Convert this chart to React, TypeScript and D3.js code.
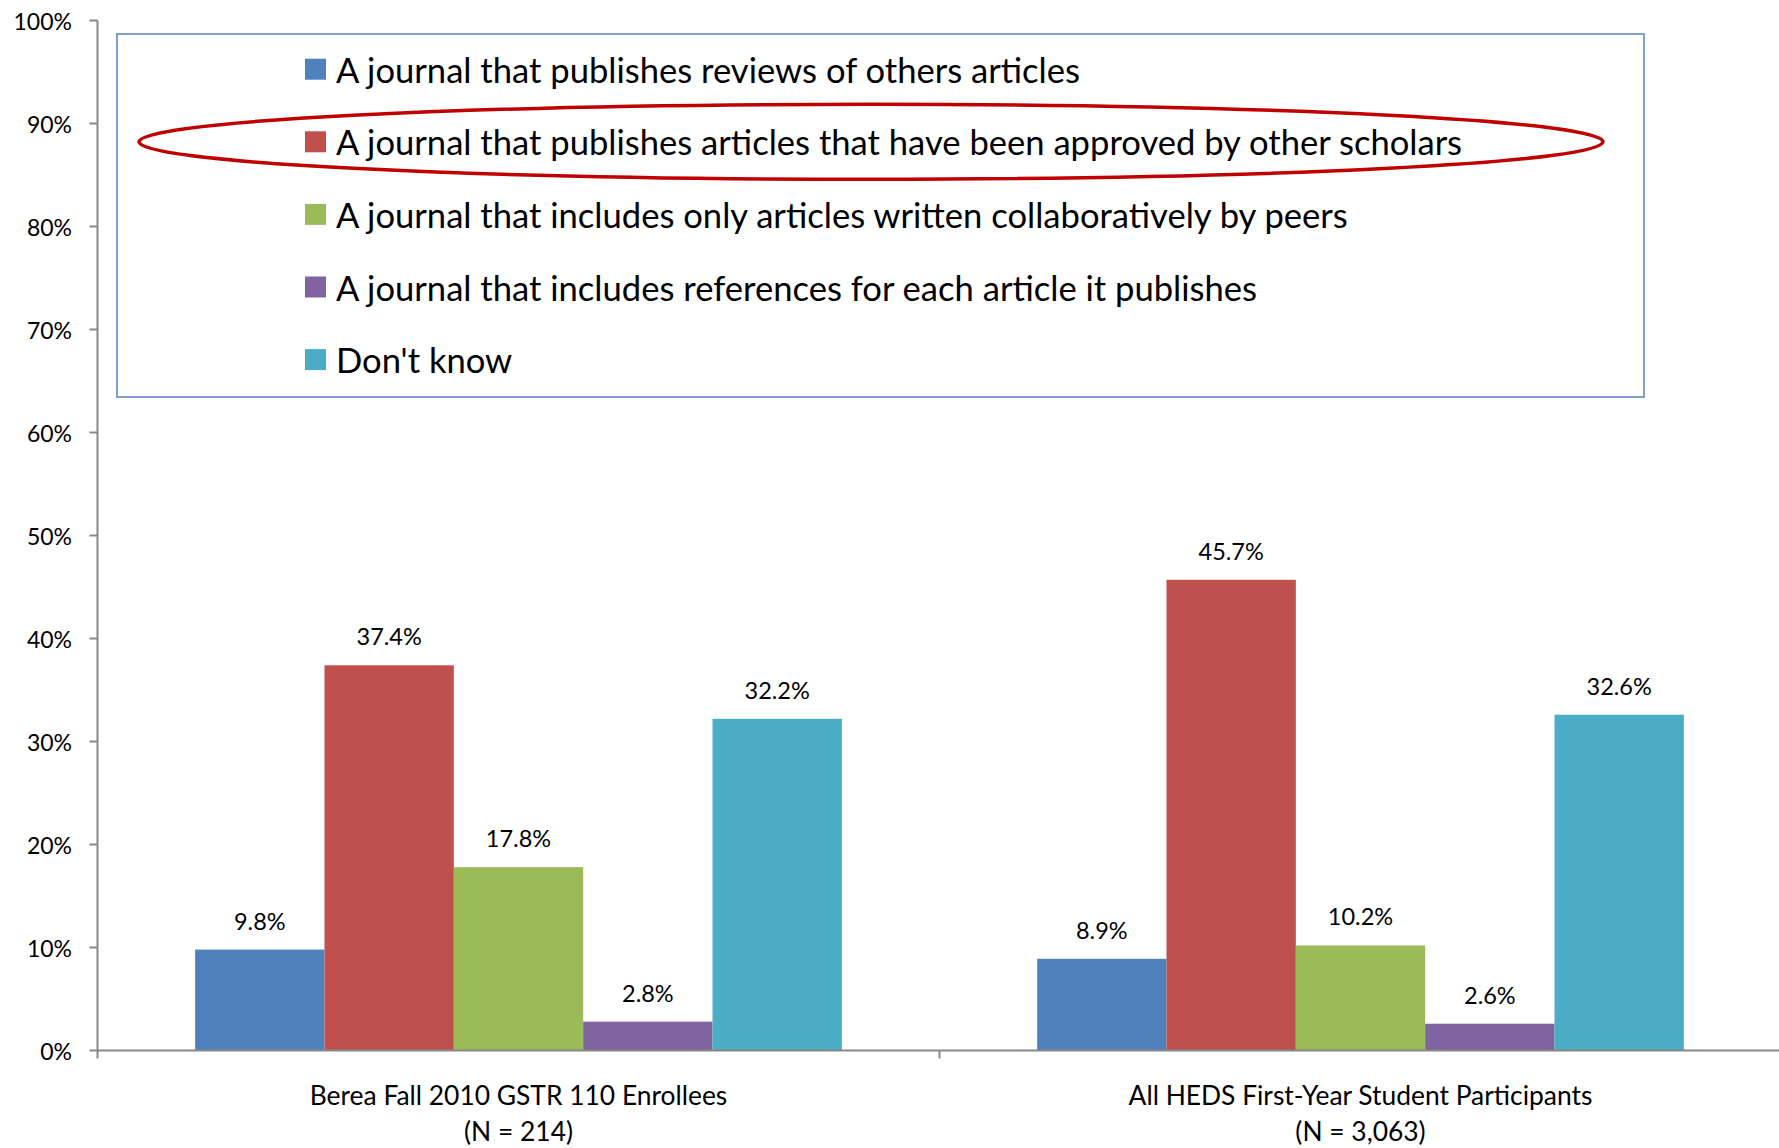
import React from "react";
import * as d3 from "d3";

const categories = ["Berea Fall 2010 GSTR 110 Enrollees", "All HEDS First-Year Student Participants"];
const categorySubs = ["(N = 214)", "(N = 3,063)"];
const seriesNames = [
  "A journal that publishes reviews of others articles",
  "A journal that publishes articles that have been approved by other scholars",
  "A journal that includes only articles written collaboratively by peers",
  "A journal that includes references for each article it publishes",
  "Don't know",
];
const seriesColors = ["#4F81BD", "#C0504D", "#9BBB59", "#8064A2", "#4BACC6"];
const bereaValues = [9.8, 37.4, 17.8, 2.8, 32.2];
const hedsValues = [8.9, 45.7, 10.2, 2.6, 32.6];
const yTicks = [0, 10, 20, 30, 40, 50, 60, 70, 80, 90, 100];

const W = 1779;
const H = 1148;
const FONT = "Lato, 'Open Sans', sans-serif";

export default function App() {
  const left = 97.5;
  const right = left + 2 * 842;
  const top = 20.5;
  const bottom = 1050.5;

  const y = d3.scaleLinear().domain([0, 100]).range([bottom, top]);
  const x0 = d3.scaleBand<string>().domain(categories).range([left, right]).padding(0);
  const x1 = d3
    .scaleBand<number>()
    .domain(d3.range(seriesNames.length))
    .range([0, x0.bandwidth()])
    .paddingInner(0)
    .paddingOuter(0.755);

  const groups = [bereaValues, hedsValues];
  const axisColor = "#888888";

  const legendBox = { x: 117, y: 34, w: 1527, h: 363 };
  const rowY = (i: number) => 69.2 + i * 72.6;

  return (
    <div style={{ position: "absolute", left: 0, top: 0 }}>
      <svg width={W} height={H} style={{ display: "block", background: "#fff" }} fontFamily={FONT}>
        <rect x={0} y={0} width={W} height={H} fill="#fff" />

        {groups.map((vals, gi) => (
          <g key={gi} transform={`translate(${x0(categories[gi])},0)`}>
            {vals.map((v, si) => (
              <g key={si}>
                <rect
                  x={x1(si)!}
                  y={y(v)}
                  width={x1.bandwidth()}
                  height={y(0) - y(v)}
                  fill={seriesColors[si]}
                />
                <text
                  x={x1(si)! + x1.bandwidth() / 2}
                  y={y(v) - 20}
                  textAnchor="middle"
                  fontSize={23.5}
                  fill="#000"
                >
                  {v.toFixed(1)}%
                </text>
              </g>
            ))}
          </g>
        ))}

        <line x1={left} x2={left} y1={top} y2={bottom + 8} stroke={axisColor} strokeWidth={2} />
        {yTicks.map((t) => (
          <g key={t}>
            <line x1={left - 8} x2={left} y1={y(t)} y2={y(t)} stroke={axisColor} strokeWidth={2} />
            <text x={72} y={y(t)} textAnchor="end" dominantBaseline="central" fontSize={23} fill="#000">
              {t}%
            </text>
          </g>
        ))}

        <line x1={left} x2={right} y1={bottom} y2={bottom} stroke={axisColor} strokeWidth={2} />
        {categories.map((c, i) => (
          <line
            key={"t" + i}
            x1={x0(c)! + x0.bandwidth()}
            x2={x0(c)! + x0.bandwidth()}
            y1={bottom}
            y2={bottom + 8}
            stroke={axisColor}
            strokeWidth={2}
          />
        ))}
        {categories.map((c, i) => (
          <g key={"c" + i}>
            <text x={x0(c)! + x0.bandwidth() / 2} y={1105} textAnchor="middle" fontSize={26.4} fill="#000">
              {c}
            </text>
            <text x={x0(c)! + x0.bandwidth() / 2} y={1141} textAnchor="middle" fontSize={26.4} fill="#000">
              {categorySubs[i]}
            </text>
          </g>
        ))}

        <rect
          x={legendBox.x}
          y={legendBox.y}
          width={legendBox.w}
          height={legendBox.h}
          fill="#fff"
          stroke="#6F97CB"
          strokeWidth={1.8}
        />
        {seriesNames.map((s, i) => (
          <g key={"l" + i}>
            <rect x={305} y={rowY(i) - 10.5} width={21} height={21} fill={seriesColors[i]} />
            <text x={336} y={rowY(i)} dominantBaseline="central" fontSize={34.6} fill="#000">
              {s}
            </text>
          </g>
        ))}

        <ellipse cx={871} cy={rowY(1)} rx={732} ry={37.5} fill="none" stroke="#C00000" strokeWidth={3.5} />
      </svg>
    </div>
  );
}
